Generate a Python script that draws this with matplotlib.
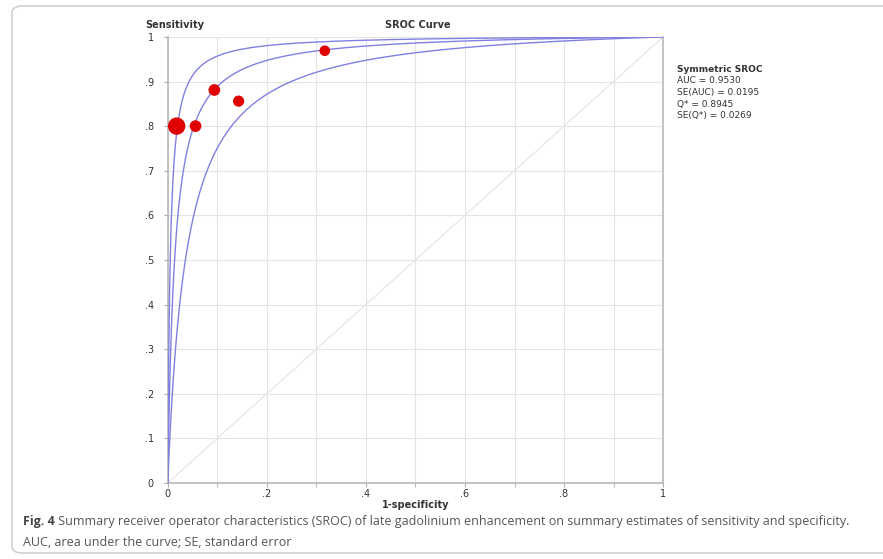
import numpy as np
import matplotlib.pyplot as plt
from matplotlib.patches import FancyBboxPatch

# study estimates (1-specificity, sensitivity) and relative weights
FPR    = [0.018, 0.056, 0.094, 0.143, 0.317]
SENS   = [0.800, 0.800, 0.881, 0.856, 0.969]
WEIGHT = [2.4, 1.0, 1.0, 0.9, 0.8]

# symmetric SROC intercepts: lower CI, fitted, upper CI
SROC_A = [3.30, 4.275, 5.30]

STATS = ["AUC = 0.9530", "SE(AUC) = 0.0195", "Q* = 0.8945", "SE(Q*) = 0.0269"]

XTICKS = [0, 0.2, 0.4, 0.6, 0.8, 1]
XLABELS = ["0", ".2", ".4", ".6", ".8", "1"]
YTICKS = [0, 0.1, 0.2, 0.3, 0.4, 0.5, 0.6, 0.7, 0.8, 0.9, 1]
YLABELS = ["0", ".1", ".2", ".3", ".4", ".5", ".6", ".7", ".8", ".9", "1"]

CAPTION_1 = (" Summary receiver operator characteristics (SROC) of late gadolinium "
             "enhancement on summary estimates of sensitivity and specificity.")
CAPTION_2 = "AUC, area under the curve; SE, standard error"

TXT = "#333333"
GRID = "#e4e4e4"
CURVE = "#8080e0"


def sroc(a, fpr):
    odds = np.exp(a) * fpr / (1 - fpr)
    return odds / (1 + odds)


fig = plt.figure(figsize=(8.83, 5.59), dpi=100)
ax = fig.add_axes([0.190, 0.136, 0.561, 0.798])

frame = FancyBboxPatch((12 / 883, 6 / 559), 1.2, 547 / 559,
                       boxstyle="round,pad=0,rounding_size=0.012",
                       transform=fig.transFigure, fill=False,
                       edgecolor="#d0d0d0", linewidth=1.2)
fig.patches.append(frame)

fx = np.linspace(1e-5, 1 - 1e-5, 800)
for a in SROC_A:
    ax.plot(fx, sroc(a, fx), color=CURVE, linewidth=1.0, zorder=3)

ax.plot([0, 1], [0, 1], color=GRID, linewidth=0.8, zorder=1)

sizes = [w * 55 for w in WEIGHT]
ax.scatter(FPR, SENS, s=sizes, color="#e00000", edgecolor="#e00000", zorder=4)

ax.set_xlim(0, 1)
ax.set_ylim(0, 1)
ax.set_xticks(XTICKS)
ax.set_xticklabels(XLABELS)
ax.set_xticks(np.arange(0, 1.01, 0.1), minor=True)
ax.set_yticks(YTICKS)
ax.set_yticklabels(YLABELS)
ax.grid(True, which="both", color=GRID, linewidth=0.8, zorder=0)
ax.set_axisbelow(True)
ax.tick_params(axis="both", which="both", length=3, color="#aaaaaa",
               labelsize=7, labelcolor=TXT)
ax.tick_params(axis="x", which="both", pad=1)
ax.tick_params(axis="y", which="both", pad=7)

for side in ["left", "bottom", "right"]:
    ax.spines[side].set_color("#b8b8b8")
    ax.spines[side].set_linewidth(1.2)
ax.spines["top"].set_visible(False)

ax.set_xlabel("1-specificity", fontsize=7, fontweight="bold", color=TXT, labelpad=1)
fig.text(0.165, 0.955, "Sensitivity", fontsize=7, fontweight="bold", color=TXT,
         ha="left", va="center")
fig.text(0.473, 0.955, "SROC Curve", fontsize=7, fontweight="bold", color=TXT,
         ha="center", va="center")

fig.text(0.767, 0.876, "Symmetric SROC", fontsize=6.5, fontweight="bold", color=TXT,
         ha="left", va="center")
for i, s in enumerate(STATS):
    fig.text(0.767, 0.876 - (i + 1) * 0.0208, s, fontsize=6.5, color=TXT,
             ha="left", va="center")

t = fig.text(23 / 883, 1 - 522 / 559, "Fig. 4", fontsize=9, fontweight="bold",
             color="#444444", family="Open Sans", ha="left", va="center")
fig.canvas.draw()
bb = t.get_window_extent()
fig.text(bb.x1 / fig.bbox.width, 1 - 522 / 559, CAPTION_1, fontsize=9,
         color="#555555", family="Open Sans", ha="left", va="center")
fig.text(23 / 883, 1 - 542 / 559, CAPTION_2, fontsize=9, color="#555555",
         family="Open Sans", ha="left", va="center")

fig.savefig("out.png", dpi=100)
